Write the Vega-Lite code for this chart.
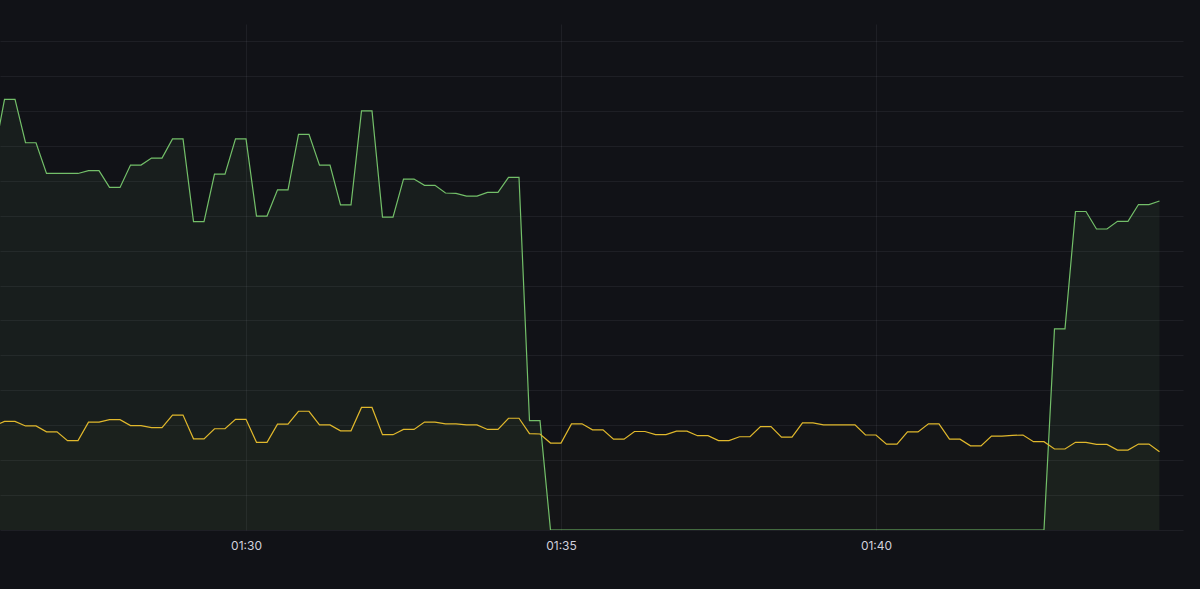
{
  "$schema": "https://vega.github.io/schema/vega-lite/v6.json",
  "width": 1183,
  "height": 506,
  "autosize": {"type": "none"},
  "padding": {"left": 0, "top": 24, "right": 17, "bottom": 59},
  "background": "#111217",
  "config": {
    "view": {"stroke": null},
    "axis": {"gridColor": "#ccccdc", "gridOpacity": 0.075, "gridWidth": 1}
  },
  "data": {"values": [
    {"t":"2024-01-01T01:26:00","g":107.4,"y":29.8},
    {"t":"2024-01-01T01:26:10","g":123.3,"y":31.1},
    {"t":"2024-01-01T01:26:20","g":123.3,"y":31.1},
    {"t":"2024-01-01T01:26:30","g":110.9,"y":29.8},
    {"t":"2024-01-01T01:26:40","g":110.9,"y":29.8},
    {"t":"2024-01-01T01:26:50","g":102.1,"y":28.1},
    {"t":"2024-01-01T01:27:00","g":102.1,"y":28.1},
    {"t":"2024-01-01T01:27:10","g":102.1,"y":25.6},
    {"t":"2024-01-01T01:27:20","g":102.1,"y":25.6},
    {"t":"2024-01-01T01:27:30","g":102.9,"y":30.9},
    {"t":"2024-01-01T01:27:40","g":102.9,"y":30.9},
    {"t":"2024-01-01T01:27:50","g":98.1,"y":31.6},
    {"t":"2024-01-01T01:28:00","g":98.1,"y":31.6},
    {"t":"2024-01-01T01:28:10","g":104.5,"y":29.9},
    {"t":"2024-01-01T01:28:20","g":104.5,"y":29.9},
    {"t":"2024-01-01T01:28:30","g":106.5,"y":29.3},
    {"t":"2024-01-01T01:28:40","g":106.5,"y":29.3},
    {"t":"2024-01-01T01:28:50","g":112.0,"y":32.9},
    {"t":"2024-01-01T01:29:00","g":112.0,"y":32.9},
    {"t":"2024-01-01T01:29:10","g":88.3,"y":26.1},
    {"t":"2024-01-01T01:29:20","g":88.3,"y":26.1},
    {"t":"2024-01-01T01:29:30","g":101.9,"y":29.0},
    {"t":"2024-01-01T01:29:40","g":101.9,"y":29.0},
    {"t":"2024-01-01T01:29:50","g":112.0,"y":31.7},
    {"t":"2024-01-01T01:30:00","g":112.0,"y":31.7},
    {"t":"2024-01-01T01:30:10","g":89.9,"y":25.1},
    {"t":"2024-01-01T01:30:20","g":89.9,"y":25.1},
    {"t":"2024-01-01T01:30:30","g":97.4,"y":30.3},
    {"t":"2024-01-01T01:30:40","g":97.4,"y":30.3},
    {"t":"2024-01-01T01:30:50","g":113.3,"y":34.0},
    {"t":"2024-01-01T01:31:00","g":113.3,"y":34.0},
    {"t":"2024-01-01T01:31:10","g":104.5,"y":30.1},
    {"t":"2024-01-01T01:31:20","g":104.5,"y":30.1},
    {"t":"2024-01-01T01:31:30","g":93.1,"y":28.4},
    {"t":"2024-01-01T01:31:40","g":93.1,"y":28.4},
    {"t":"2024-01-01T01:31:50","g":120.0,"y":35.1},
    {"t":"2024-01-01T01:32:00","g":120.0,"y":35.1},
    {"t":"2024-01-01T01:32:10","g":89.6,"y":27.3},
    {"t":"2024-01-01T01:32:20","g":89.6,"y":27.3},
    {"t":"2024-01-01T01:32:30","g":100.5,"y":28.8},
    {"t":"2024-01-01T01:32:40","g":100.5,"y":28.8},
    {"t":"2024-01-01T01:32:50","g":98.7,"y":30.9},
    {"t":"2024-01-01T01:33:00","g":98.7,"y":30.9},
    {"t":"2024-01-01T01:33:10","g":96.5,"y":30.4},
    {"t":"2024-01-01T01:33:20","g":96.4,"y":30.4},
    {"t":"2024-01-01T01:33:30","g":95.6,"y":30.1},
    {"t":"2024-01-01T01:33:40","g":95.6,"y":30.1},
    {"t":"2024-01-01T01:33:50","g":96.7,"y":28.8},
    {"t":"2024-01-01T01:34:00","g":96.7,"y":28.8},
    {"t":"2024-01-01T01:34:10","g":101.0,"y":32.0},
    {"t":"2024-01-01T01:34:20","g":101.0,"y":32.0},
    {"t":"2024-01-01T01:34:30","g":31.3,"y":27.6},
    {"t":"2024-01-01T01:34:40","g":31.3,"y":27.5},
    {"t":"2024-01-01T01:34:50","g":0,"y":24.9},
    {"t":"2024-01-01T01:35:00","g":0,"y":24.9},
    {"t":"2024-01-01T01:35:10","g":0,"y":30.4},
    {"t":"2024-01-01T01:35:20","g":0,"y":30.4},
    {"t":"2024-01-01T01:35:30","g":0,"y":28.7},
    {"t":"2024-01-01T01:35:40","g":0,"y":28.7},
    {"t":"2024-01-01T01:35:50","g":0,"y":26.0},
    {"t":"2024-01-01T01:36:00","g":0,"y":26.0},
    {"t":"2024-01-01T01:36:10","g":0,"y":28.2},
    {"t":"2024-01-01T01:36:20","g":0,"y":28.2},
    {"t":"2024-01-01T01:36:30","g":0,"y":27.3},
    {"t":"2024-01-01T01:36:40","g":0,"y":27.3},
    {"t":"2024-01-01T01:36:50","g":0,"y":28.3},
    {"t":"2024-01-01T01:37:00","g":0,"y":28.3},
    {"t":"2024-01-01T01:37:10","g":0,"y":27.0},
    {"t":"2024-01-01T01:37:20","g":0,"y":27.0},
    {"t":"2024-01-01T01:37:30","g":0,"y":25.6},
    {"t":"2024-01-01T01:37:40","g":0,"y":25.6},
    {"t":"2024-01-01T01:37:50","g":0,"y":26.7},
    {"t":"2024-01-01T01:38:00","g":0,"y":26.7},
    {"t":"2024-01-01T01:38:10","g":0,"y":29.6},
    {"t":"2024-01-01T01:38:20","g":0,"y":29.6},
    {"t":"2024-01-01T01:38:30","g":0,"y":26.6},
    {"t":"2024-01-01T01:38:40","g":0,"y":26.6},
    {"t":"2024-01-01T01:38:50","g":0,"y":30.7},
    {"t":"2024-01-01T01:39:00","g":0,"y":30.7},
    {"t":"2024-01-01T01:39:10","g":0,"y":30.1},
    {"t":"2024-01-01T01:39:20","g":0,"y":30.1},
    {"t":"2024-01-01T01:39:30","g":0,"y":30.1},
    {"t":"2024-01-01T01:39:40","g":0,"y":30.1},
    {"t":"2024-01-01T01:39:50","g":0,"y":27.2},
    {"t":"2024-01-01T01:40:00","g":0,"y":27.2},
    {"t":"2024-01-01T01:40:10","g":0,"y":24.6},
    {"t":"2024-01-01T01:40:20","g":0,"y":24.6},
    {"t":"2024-01-01T01:40:30","g":0,"y":28.1},
    {"t":"2024-01-01T01:40:40","g":0,"y":28.1},
    {"t":"2024-01-01T01:40:50","g":0,"y":30.4},
    {"t":"2024-01-01T01:41:00","g":0,"y":30.4},
    {"t":"2024-01-01T01:41:10","g":0,"y":26.0},
    {"t":"2024-01-01T01:41:20","g":0,"y":26.0},
    {"t":"2024-01-01T01:41:30","g":0,"y":24.1},
    {"t":"2024-01-01T01:41:40","g":0,"y":24.1},
    {"t":"2024-01-01T01:41:50","g":0,"y":26.9},
    {"t":"2024-01-01T01:42:00","g":0,"y":26.9},
    {"t":"2024-01-01T01:42:10","g":0,"y":27.1},
    {"t":"2024-01-01T01:42:20","g":0,"y":27.2},
    {"t":"2024-01-01T01:42:30","g":0,"y":25.3},
    {"t":"2024-01-01T01:42:40","g":0,"y":25.3},
    {"t":"2024-01-01T01:42:50","g":57.6,"y":23.2},
    {"t":"2024-01-01T01:43:00","g":57.6,"y":23.2},
    {"t":"2024-01-01T01:43:10","g":91.2,"y":25.1},
    {"t":"2024-01-01T01:43:20","g":91.2,"y":25.1},
    {"t":"2024-01-01T01:43:30","g":86.2,"y":24.5},
    {"t":"2024-01-01T01:43:40","g":86.2,"y":24.5},
    {"t":"2024-01-01T01:43:50","g":88.4,"y":22.9},
    {"t":"2024-01-01T01:44:00","g":88.4,"y":22.9},
    {"t":"2024-01-01T01:44:10","g":93.2,"y":24.6},
    {"t":"2024-01-01T01:44:20","g":93.2,"y":24.6},
    {"t":"2024-01-01T01:44:30","g":94.2,"y":22.4}
  ]},
  "encoding": {
    "x": {
      "field": "t", "type": "temporal",
      "scale": {"domain": [
        {"year": 2024, "month": 1, "date": 1, "hours": 1, "minutes": 26, "seconds": 5, "milliseconds": 700},
        {"year": 2024, "month": 1, "date": 1, "hours": 1, "minutes": 44, "seconds": 52, "milliseconds": 400}
      ]},
      "axis": {
        "title": null, "format": "%H:%M",
        "values": [
          {"year": 2024, "month": 1, "date": 1, "hours": 1, "minutes": 30},
          {"year": 2024, "month": 1, "date": 1, "hours": 1, "minutes": 35},
          {"year": 2024, "month": 1, "date": 1, "hours": 1, "minutes": 40}
        ],
        "ticks": false, "domain": false,
        "labelColor": "#d0d0dc", "labelFont": "Inter", "labelFontSize": 12,
        "labelPadding": 10, "labelFlush": false
      }
    }
  },
  "layer": [
    {
      "mark": {"type": "area", "clip": true, "color": "#73BF69", "fillOpacity": 0.075},
      "encoding": {
        "y": {
          "field": "g", "type": "quantitative",
          "scale": {"domain": [0, 144.9], "nice": false},
          "axis": {"title": null, "labels": false, "ticks": false, "domain": false, "values": [0,10,20,30,40,50,60,70,80,90,100,110,120,130,140]}
        }
      }
    },
    {
      "mark": {"type": "area", "clip": true, "color": "#E0B82C", "fillOpacity": 0.02},
      "encoding": {
        "y": {
          "field": "y", "type": "quantitative",
          "axis": {"title": null, "labels": false, "ticks": false, "domain": false, "values": [0,10,20,30,40,50,60,70,80,90,100,110,120,130,140]}
        }
      }
    },
    {
      "mark": {"type": "line", "clip": true, "color": "#73BF69", "strokeWidth": 1.2},
      "encoding": {
        "y": {
          "field": "g", "type": "quantitative",
          "axis": {"title": null, "labels": false, "ticks": false, "domain": false, "values": [0,10,20,30,40,50,60,70,80,90,100,110,120,130,140]}
        }
      }
    },
    {
      "mark": {"type": "line", "clip": true, "color": "#E0B82C", "strokeWidth": 1.2},
      "encoding": {
        "y": {
          "field": "y", "type": "quantitative",
          "axis": {"title": null, "labels": false, "ticks": false, "domain": false, "values": [0,10,20,30,40,50,60,70,80,90,100,110,120,130,140]}
        }
      }
    }
  ]
}
